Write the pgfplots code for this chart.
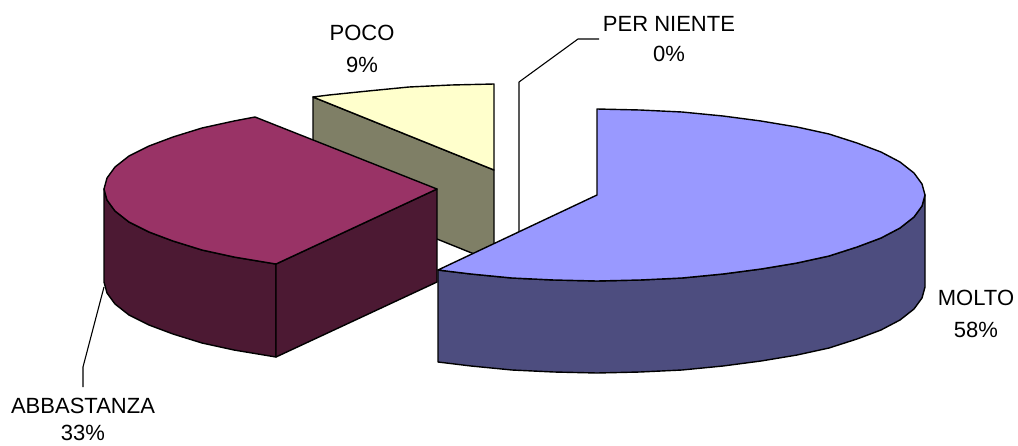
\documentclass[border=0pt]{standalone}
\usepackage{pgfplots}
\pgfplotsset{compat=1.18}
\usepackage{fontspec}
\setmainfont{Liberation Sans}
\definecolor{bluetop}{RGB}{153,153,255}
\definecolor{blueside}{RGB}{77,77,127}
\definecolor{redtop}{RGB}{153,51,102}
\definecolor{redside}{RGB}{76,25,51}
\definecolor{yellowtop}{RGB}{255,255,204}
\definecolor{yellowside}{RGB}{127,127,102}
\tikzset{lbl/.style={font=\fontsize{22}{26}\selectfont, align=center, inner sep=0pt}}
\begin{document}
\begin{tikzpicture}
\begin{axis}[
    anchor=south west, at={(0pt,0pt)},
    scale only axis, width=1018pt, height=445pt,
    xmin=0, xmax=1018, ymin=0, ymax=445, y dir=reverse,
    hide axis, clip=false,
    every axis plot/.append style={line width=1.4pt, line join=round},
]
% poco
\addplot[draw=black, fill=yellowside] coordinates {(313,97) (494,170) (494,262) (313,189)} --cycle;
\addplot[draw=black, fill=yellowtop] coordinates {(494,84) (451,85) (409,87) (368,91) (329,95) (313,97) (494,170)} --cycle;
% per niente, zero slice
\addplot[draw=black, line width=1.1pt] coordinates {(599,39) (578,39) (519,82) (519,235)};
% abbastanza
\addplot[draw=black, fill=redside] coordinates {(104,189) (104,282) (107,293) (115,304) (129,315) (149,325) (173,334) (202,343) (234,350) (276,357) (276,264) (234,257) (202,250) (173,241) (149,232) (129,222) (115,211) (107,200)} --cycle;
\addplot[draw=black, fill=redside] coordinates {(276,264) (276,357) (437,282) (437,189)} --cycle;
\addplot[draw=black, fill=redtop] coordinates {(255,117) (437,189) (276,264) (234,257) (202,250) (173,241) (149,232) (129,222) (115,211) (107,200) (104,189) (107,178) (115,167) (129,156) (149,146) (173,137) (202,128) (234,121)} --cycle;
\addplot[draw=black, line width=1.1pt] coordinates {(104,287) (83,367) (83,387)};
% molto
\addplot[draw=black, fill=blueside] coordinates {(438,270) (438,362) (471,366) (512,370) (554,372) (597,373) (640,372) (682,370) (723,366) (761,361) (797,355) (829,348) (857,339) (881,330) (900,320) (914,309) (922,298) (925,287) (925,195) (922,206) (914,217) (900,228) (881,238) (857,247) (829,256) (797,263) (761,269) (723,274) (682,278) (640,280) (597,281) (554,280) (512,278) (471,274)} --cycle;
\addplot[draw=black, fill=bluetop] coordinates {(597,195) (597,109) (640,110) (682,112) (723,116) (761,121) (797,127) (829,134) (857,143) (881,152) (900,162) (914,173) (922,184) (925,195) (922,206) (914,217) (900,228) (881,238) (857,247) (829,256) (797,263) (761,269) (723,274) (682,278) (640,280) (597,281) (554,280) (512,278) (471,274) (438,270)} --cycle;
% labels
\node[lbl] at (axis cs:362,33) {POCO};
\node[lbl] at (axis cs:362,65) {9\%};
\node[lbl] at (axis cs:669,24) {PER NIENTE};
\node[lbl] at (axis cs:669,54) {0\%};
\node[lbl] at (axis cs:976,298) {MOLTO};
\node[lbl] at (axis cs:976,330) {58\%};
\node[lbl] at (axis cs:83,406) {ABBASTANZA};
\node[lbl] at (axis cs:83,433) {33\%};
\end{axis}
\pgfresetboundingbox
\path[use as bounding box] (0pt,0pt) rectangle (1018pt,445pt);
\end{tikzpicture}
\end{document}
